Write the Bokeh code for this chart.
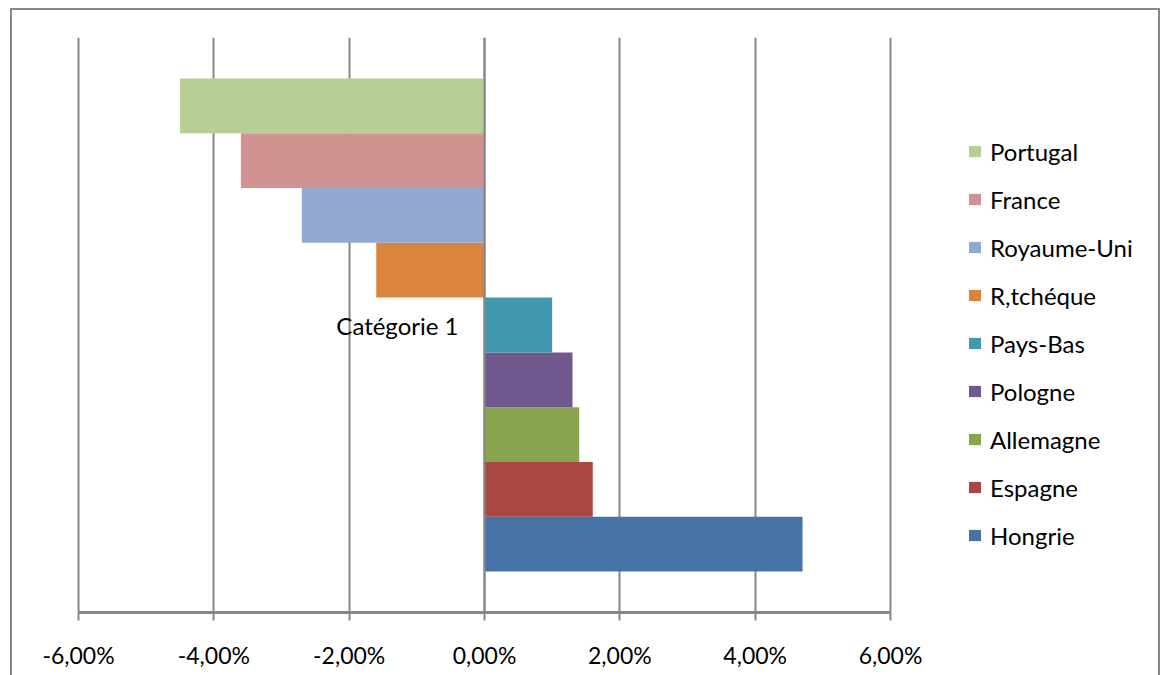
from bokeh.plotting import figure
from bokeh.models import (FactorRange, Range1d, FixedTicker, ColumnDataSource, Legend,
                          LegendItem, InlineStyleSheet)
from bokeh.transform import dodge
from bokeh.embed import file_html
from bokeh.resources import INLINE

category = "Catégorie 1"
series = ["Hongrie", "Espagne", "Allemagne", "Pologne", "Pays-Bas",
          "R,tchéque", "Royaume-Uni", "France", "Portugal"]
values = [4.7, 1.6, 1.4, 1.3, 1.0, -1.6, -2.7, -3.6, -4.5]
colors = ["#4572A7", "#AA4643", "#89A54E", "#71588F", "#4198AF",
          "#DB843D", "#93A9CF", "#D19392", "#B9CD96"]
tick_values = [-6, -4, -2, 0, 2, 4, 6]
tick_labels = ["-6,00%", "-4,00%", "-2,00%", "0,00%", "2,00%", "4,00%", "6,00%"]

FONT = "Lato"
GRAY = "#878787"

# value axis spans -6..6 over 812 px; the frame continues right to hold the legend
x_min, x_max = -6, 6
px_per_unit = 812 / (x_max - x_min)
pad_left_px = 3
x_start = x_min - pad_left_px / px_per_unit
x_end = x_max + 275 / px_per_unit

p = figure(width=1165, height=675, output_backend="svg", toolbar_location=None,
           y_range=FactorRange(factors=[category], range_padding=0),
           x_range=Range1d(x_start, x_end),
           min_border_left=78 - pad_left_px, min_border_right=0,
           min_border_top=37, min_border_bottom=63)
p.outline_line_color = None
p.background_fill_color = "white"
p.border_fill_color = "white"

n = len(series)
h = 1.0 / (n + 1.5)
renderers = []
for i, (name, v, c) in enumerate(zip(series, values, colors)):
    off = (i - (n - 1) / 2) * h
    src = ColumnDataSource(dict(y=[category], right=[v], left=[0]))
    r = p.hbar(y=dodge("y", off, range=p.y_range), left="left", right="right", height=h,
               source=src, fill_color=c, line_color=None)
    renderers.append((name, r))

# x axis
p.xaxis.ticker = FixedTicker(ticks=tick_values)
p.xaxis.bounds = (x_min, x_max)
p.xaxis.major_label_overrides = {t: l for t, l in zip(tick_values, tick_labels)}
p.xaxis.axis_line_color = GRAY
p.xaxis.axis_line_width = 3
p.xaxis.major_tick_line_color = GRAY
p.xaxis.major_tick_line_width = 2
p.xaxis.major_tick_out = 8
p.xaxis.major_tick_in = 0
p.xaxis.minor_tick_line_color = None
p.xaxis.major_label_standoff = 20
p.xaxis.major_label_text_font = FONT
p.xaxis.major_label_text_font_size = "23px"
p.xaxis.major_label_text_color = "black"

# category axis crossing at 0
p.yaxis.fixed_location = 0
p.yaxis.axis_line_color = GRAY
p.yaxis.axis_line_width = 2
p.yaxis.major_tick_line_color = None
p.yaxis.major_label_standoff = 20
p.yaxis.major_label_text_font = FONT
p.yaxis.major_label_text_font_size = "24px"
p.yaxis.major_label_text_color = "black"

p.xgrid.grid_line_color = GRAY
p.xgrid.grid_line_width = 2
p.ygrid.grid_line_color = None

items = [LegendItem(label=name, renderers=[r]) for name, r in reversed(renderers)]
legend = Legend(items=items, location=(889 + pad_left_px, 53), border_line_color=None,
                background_fill_alpha=0, padding=0, margin=0, spacing=0,
                label_height=48, glyph_width=15, glyph_height=14, label_standoff=8,
                label_text_font=FONT, label_text_font_size="24px", label_text_color="black")
p.add_layout(legend)

p.stylesheets = [InlineStyleSheet(css=""":host::after {
  content: ""; position: absolute; left: 10px; top: 8px; width: 1150px; height: 667px;
  border-top: 2px solid #878787; border-left: 2px solid #878787; border-right: 2px solid #878787;
  box-sizing: border-box; pointer-events: none; }""")]

open("out.html", "w").write(file_html(p, INLINE))
